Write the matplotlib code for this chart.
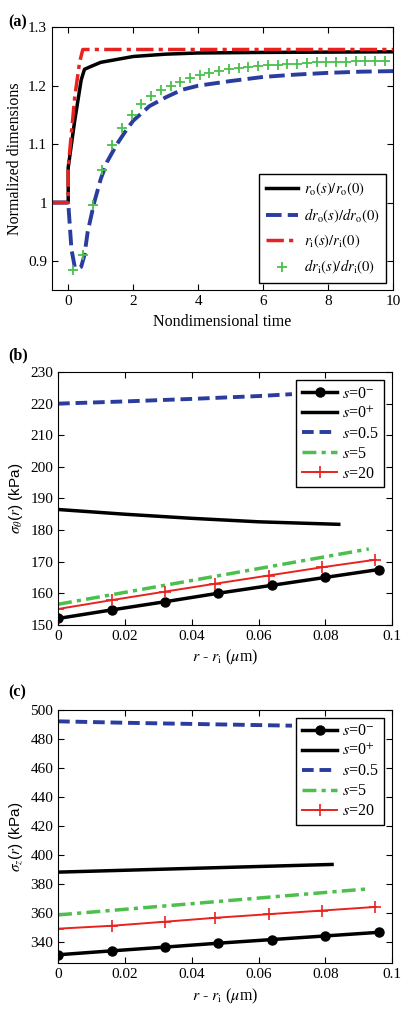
import matplotlib
matplotlib.use('Agg')
import matplotlib.pyplot as plt

plt.rcParams['font.family'] = ['Liberation Serif', 'DejaVu Serif']
plt.rcParams['mathtext.fontset'] = 'stix'
plt.rcParams['font.size'] = 11

# (a) normalized dimensions vs nondimensional time
t_r0 = [-0.5, 0, 0, 0.1, 0.2, 0.3, 0.4, 0.5, 0.7, 1.0, 1.5, 2.0, 3.0, 4.0, 6.0, 10.0]
r0 = [1.0, 1.0, 1.06, 1.1, 1.14, 1.175, 1.21, 1.228, 1.233, 1.24, 1.245, 1.25, 1.254, 1.256, 1.257, 1.258]

t_dr0 = [-0.5, 0, 0.05, 0.1, 0.2, 0.3, 0.4, 0.5, 0.6, 0.8, 1.0, 1.2, 1.5, 1.8, 2.0, 2.5, 3.0, 3.5, 4.0,
         5.0, 6.0, 7.0, 8.0, 9.0, 10.0]
dr0 = [1.0, 1.0, 0.96, 0.92, 0.89, 0.887, 0.89, 0.91, 0.95, 1.0, 1.04, 1.07, 1.1, 1.125, 1.14, 1.165,
       1.18, 1.193, 1.2, 1.208, 1.215, 1.219, 1.222, 1.224, 1.225]

t_r1 = [-0.5, 0, 0, 0.1, 0.2, 0.35, 0.45, 10.0]
r1 = [1.0, 1.0, 1.06, 1.12, 1.18, 1.24, 1.262, 1.262]

t_dr1 = [0.15, 0.45, 0.75, 1.05, 1.35, 1.65, 1.95, 2.25, 2.55, 2.85, 3.15, 3.45, 3.75, 4.05, 4.35, 4.65,
         4.95, 5.25, 5.55, 5.85, 6.15, 6.45, 6.75, 7.05, 7.35, 7.65, 7.95, 8.25, 8.55, 8.85, 9.15, 9.45, 9.75]
dr1 = [0.885, 0.91, 0.996, 1.055, 1.098, 1.128, 1.15, 1.168, 1.182, 1.193, 1.2, 1.207, 1.213, 1.218,
       1.222, 1.225, 1.228, 1.23, 1.232, 1.234, 1.235, 1.236, 1.237, 1.238, 1.239, 1.24, 1.24, 1.241,
       1.241, 1.242, 1.242, 1.243, 1.243]

# (b) hoop stress
xb_m = [0, 0.016, 0.032, 0.048, 0.064, 0.08, 0.096]
b_s0m = [152.0, 154.7, 157.3, 160.0, 162.5, 165.0, 167.5]
xb_p = [0, 0.02, 0.04, 0.06, 0.084]
b_s0p = [186.5, 185.0, 183.7, 182.6, 181.8]
xb_05 = [0, 0.02, 0.04, 0.06, 0.07]
b_s05 = [220.0, 220.7, 221.5, 222.4, 223.0]
xb_5 = [0, 0.093]
b_s5 = [156.5, 174.0]
xb_20 = [0, 0.016, 0.032, 0.047, 0.063, 0.079, 0.095]
b_s20 = [155.0, 157.8, 160.5, 163.0, 165.6, 168.2, 170.6]

# (c) axial stress
xc_m = [0, 0.016, 0.032, 0.048, 0.064, 0.08, 0.096]
c_s0m = [331.0, 333.7, 336.3, 339.0, 341.5, 344.0, 346.5]
xc_p = [0, 0.082]
c_s0p = [388.0, 393.3]
xc_05 = [0, 0.02, 0.04, 0.06, 0.07]
c_s05 = [492.0, 491.0, 490.2, 489.4, 489.0]
xc_5 = [0, 0.093]
c_s5 = [358.5, 376.5]
xc_20 = [0, 0.016, 0.032, 0.047, 0.063, 0.079, 0.095]
c_s20 = [349.0, 351.0, 353.8, 356.5, 359.0, 361.5, 364.0]

blue = '#2a3c9e'
green = '#4cbf4c'
red = '#e8231f'

fig = plt.figure(figsize=(4.06, 10.11), dpi=100)
ax_a = fig.add_axes([0.128, 0.713, 0.840, 0.260])
ax_b = fig.add_axes([0.143, 0.382, 0.823, 0.250])
ax_c = fig.add_axes([0.143, 0.047, 0.823, 0.251])


def style(ax):
    ax.tick_params(direction='in', top=True, right=True, length=4, width=0.8, labelsize=11)
    for sp in ax.spines.values():
        sp.set_linewidth(0.8)


ax_a.plot(t_r0, r0, color='black', lw=2.5, label=r'$r_{\mathrm{o}}(s)/r_{\mathrm{o}}(0)$')
ax_a.plot(t_dr0, dr0, color=blue, lw=2.8, ls=(0, (4, 1.6)), label=r'$dr_{\mathrm{o}}(s)/dr_{\mathrm{o}}(0)$')
ax_a.plot(t_r1, r1, color=red, lw=2.5, ls=(0, (5, 1.5, 1.2, 1.5)), label=r'$r_{\mathrm{i}}(s)/r_{\mathrm{i}}(0)$')
ax_a.plot(t_dr1, dr1, ls='none', marker='+', ms=7, mew=1.3, color=green,
          label=r'$dr_{\mathrm{i}}(s)/dr_{\mathrm{i}}(0)$')
ax_a.set_xlim(-0.5, 10)
ax_a.set_ylim(0.85, 1.3)
ax_a.set_xticks([0, 2, 4, 6, 8, 10])
ax_a.set_yticks([0.9, 1.0, 1.1, 1.2, 1.3])
ax_a.set_yticklabels(['0.9', '1', '1.1', '1.2', '1.3'])
ax_a.set_xlabel('Nondimensional time', fontsize=11.5)
ax_a.set_ylabel('Normalized dimensions', fontsize=11.5)
ax_a.legend(loc='lower right', fancybox=False, edgecolor='black', framealpha=1, fontsize=10.5,
            handlelength=2.2, borderpad=0.45, labelspacing=0.55, handletextpad=0.4)
style(ax_a)

for ax, xs, ys in [(ax_b, (xb_m, xb_p, xb_05, xb_5, xb_20), (b_s0m, b_s0p, b_s05, b_s5, b_s20)),
                   (ax_c, (xc_m, xc_p, xc_05, xc_5, xc_20), (c_s0m, c_s0p, c_s05, c_s5, c_s20))]:
    ax.plot(xs[0], ys[0], color='black', lw=2.5, marker='o', ms=6.5, mfc='black', mec='black',
            label=r'$s$=0$^{-}$')
    ax.plot(xs[1], ys[1], color='black', lw=2.5, label=r'$s$=0$^{+}$')
    ax.plot(xs[2], ys[2], color=blue, lw=2.8, ls=(0, (3, 1.5)), label=r'$s$=0.5')
    ax.plot(xs[3], ys[3], color=green, lw=2.5, ls=(0, (4, 1.5, 1.2, 1.5)), label=r'$s$=5')
    ax.plot(xs[4], ys[4], color=red, lw=1.4, marker='+', ms=8, mew=1.2, label=r'$s$=20')
    ax.set_xlim(0, 0.1)
    ax.set_xticks([0, 0.02, 0.04, 0.06, 0.08, 0.1])
    ax.set_xticklabels(['0', '0.02', '0.04', '0.06', '0.08', '0.1'])
    ax.set_xlabel(r'$r$ - $r_{\mathrm{i}}$ ($\mu$m)', fontsize=11.5)
    ax.legend(loc='upper right', fancybox=False, edgecolor='black', framealpha=1, fontsize=11.5,
              handlelength=2.2, borderpad=0.35, labelspacing=0.25, handletextpad=0.3)
    style(ax)

ax_b.set_ylim(150, 230)
ax_b.set_yticks(range(150, 231, 10))
ax_b.set_ylabel(r'$\sigma_{\theta}$($r$) (kPa)', family=['Liberation Sans'], fontsize=11)
ax_c.set_ylim(325, 500)
ax_c.set_yticks(range(340, 501, 20))
ax_c.set_ylabel(r'$\sigma_{z}$($r$) (kPa)', family=['Liberation Sans'], fontsize=11)

fig.text(0.02, 0.978, '(a)', fontweight='bold', fontsize=11.5, va='center')
fig.text(0.02, 0.648, '(b)', fontweight='bold', fontsize=11.5, va='center')
fig.text(0.02, 0.315, '(c)', fontweight='bold', fontsize=11.5, va='center')

fig.savefig('out.png', dpi=100)
